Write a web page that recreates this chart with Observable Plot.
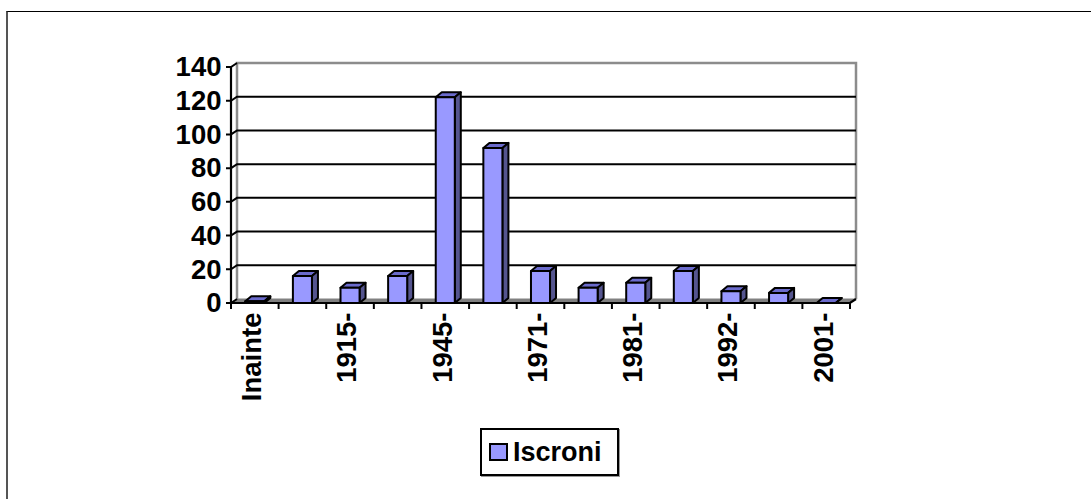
<!DOCTYPE html>
<html><head><meta charset="utf-8">
<script src="https://cdn.jsdelivr.net/npm/d3@7"></script>
<script src="https://cdn.jsdelivr.net/npm/@observablehq/plot@0.6"></script>
<style>
html,body{margin:0;padding:0;background:#fff;width:1091px;height:499px;overflow:hidden}
#frame{position:absolute;left:6px;top:11px;width:1090px;height:500px;box-sizing:border-box;border-top:1.5px solid #000;border-left:2px solid #555}
#chart{position:absolute;left:0;top:0}
#legend{position:absolute;left:480px;top:428px;width:139px;height:48px;box-sizing:border-box;border:2px solid #000;box-shadow:1px 1px 0 #999;display:flex;align-items:center;font:bold 27px "Liberation Sans",sans-serif;color:#000}
#swatch{width:15px;height:14px;background:#9999ff;border:2px solid #000;margin:0 5px 0 7px}
</style></head><body>
<div id="frame"></div>
<div id="chart"></div>
<div id="legend"><span id="swatch"></span><span id="legendText"></span></div>
<script>
const categories = ["Inainte","a","1915-","b","1945-","c","1971-","d","1981-","e","1992-","f","2001-"];
const values = [1,16,9,16,122,92,19,9,12,19,7,6,0];
const yTicks = [0,20,40,60,80,100,120,140];
const shownLabels = ["Inainte","1915-","1945-","1971-","1981-","1992-","2001-"];
const seriesName = "Iscroni";
const rows = categories.map((c,i)=>({c,v:values[i]}));
const wall = {dx:6, dy:-4};
const depth = {dx:6, dy:-5};
document.getElementById("legendText").textContent = seriesName;

function svgEl(tag, attrs){
  const e = document.createElementNS("http://www.w3.org/2000/svg", tag);
  for (const k in attrs) e.setAttribute(k, attrs[k]);
  return e;
}
function frameMark(index, {x, y}){
  const g = svgEl("g", {});
  const left = x(categories[0]) - (x.step()-x.bandwidth())/2;
  const right = left + x.step()*categories.length;
  const y0 = y(0), yTop = y(140);
  g.append(svgEl("path",{d:`M${left},${y0}L${left+wall.dx},${y0+wall.dy}L${right+wall.dx},${y0+wall.dy}L${right},${y0}Z`,fill:"#808080",stroke:"#808080"}));
  g.append(svgEl("path",{d:`M${left+wall.dx},${y0+wall.dy}V${yTop+wall.dy}H${right+wall.dx}V${y0+wall.dy}`,fill:"none",stroke:"#8c8c8c","stroke-width":2.5}));
  for (const t of yTicks){
    g.append(svgEl("path",{d:`M${left-5},${y(t)}H${left}L${left+wall.dx},${y(t)+wall.dy}${t>0&&t<140?`H${right+wall.dx}`:""}`,fill:"none",stroke:"#000","stroke-width":2}));
  }
  g.append(svgEl("path",{d:`M${left},${yTop}V${y0}H${right}L${right+wall.dx},${y0+wall.dy}`,fill:"none",stroke:"#000","stroke-width":2.2}));
  for (let i=0;i<=categories.length;i++){
    g.append(svgEl("path",{d:`M${left+i*x.step()},${y0}v6`,stroke:"#000","stroke-width":2}));
  }
  return g;
}
function bars3d(index, {x, y}){
  const g = svgEl("g", {stroke:"#000","stroke-width":2,"stroke-linejoin":"round"});
  for (const i of index){
    const r = rows[i];
    const a = x(r.c), b = a + x.bandwidth(), t = y(r.v), o = y(0);
    g.append(svgEl("path",{d:`M${a},${t}l${depth.dx},${depth.dy}H${b+depth.dx}L${b},${t}Z`,fill:"#6b6bcc"}));
    g.append(svgEl("path",{d:`M${b},${t}l${depth.dx},${depth.dy}V${o+depth.dy}L${b},${o}Z`,fill:"#55558f"}));
    g.append(svgEl("path",{d:`M${a},${t}H${b}V${o}H${a}Z`,fill:"#9999ff"}));
  }
  return g;
}
const plot = Plot.plot({
  width:1091, height:499,
  marginLeft:231, marginRight:241, marginTop:67, marginBottom:196,
  style:{background:"transparent",fontFamily:"'Liberation Sans',sans-serif",overflow:"visible"},
  x:{type:"band",domain:categories,paddingInner:0.6,paddingOuter:0.3,align:0.5,round:false,label:null},
  y:{domain:[0,140],label:null},
  marks:[
    frameMark,
    Plot.barY(rows,{x:"c",y:"v",render:bars3d}),
    Plot.axisY({ticks:yTicks,tickSize:0,tickPadding:10,fontSize:27.5,fontWeight:"bold",fill:"#000",label:null}),
    Plot.axisX({tickSize:0,tickRotate:-90,tickPadding:9,dx:-3,fontSize:27.5,fontWeight:"bold",fill:"#000",label:null,
      tickFormat:d=>shownLabels.includes(d)?d:""})
  ]
});
document.getElementById("chart").append(plot);
</script>
</body></html>
